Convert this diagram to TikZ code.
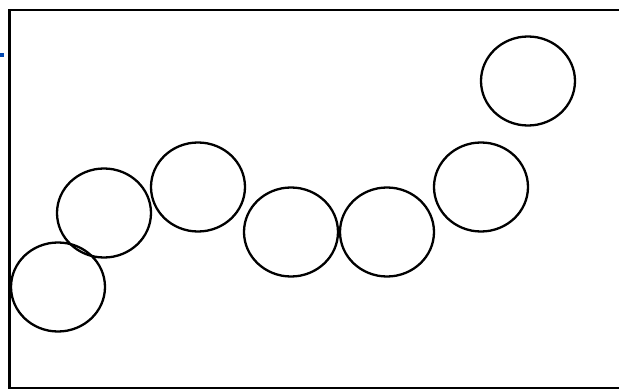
\documentclass[tikz,border=0pt]{standalone}
\usepackage{tikz}
\usetikzlibrary{shapes.geometric}

\begin{document}
\begin{tikzpicture}[x=1pt, y=-1pt]
		\tikzset{ring/.style={ellipse, draw, line width=2.3pt, inner sep=0pt, minimum width=94pt, minimum height=89pt}}
		\useasboundingbox (0,0) rectangle (619,390);
		% frame, open on the right
		\draw[line width=2.8pt] (619,10) -- (9.6,10) -- (9.6,388) -- (619,388);
		\draw[line width=4pt, blue!60!cyan!70!black] (0,55) -- (4,55);
		% rings
		\node[ring] (c1) at (58,287) {};
		\node[ring] (c2) at (104,213) {};
		\node[ring] (c3) at (198,187) {};
		\node[ring] (c4) at (291,232) {};
		\node[ring] (c5) at (387,232) {};
		\node[ring] (c6) at (481,187) {};
		\node[ring] (c7) at (528,81) {};
	\end{tikzpicture}
\end{document}
